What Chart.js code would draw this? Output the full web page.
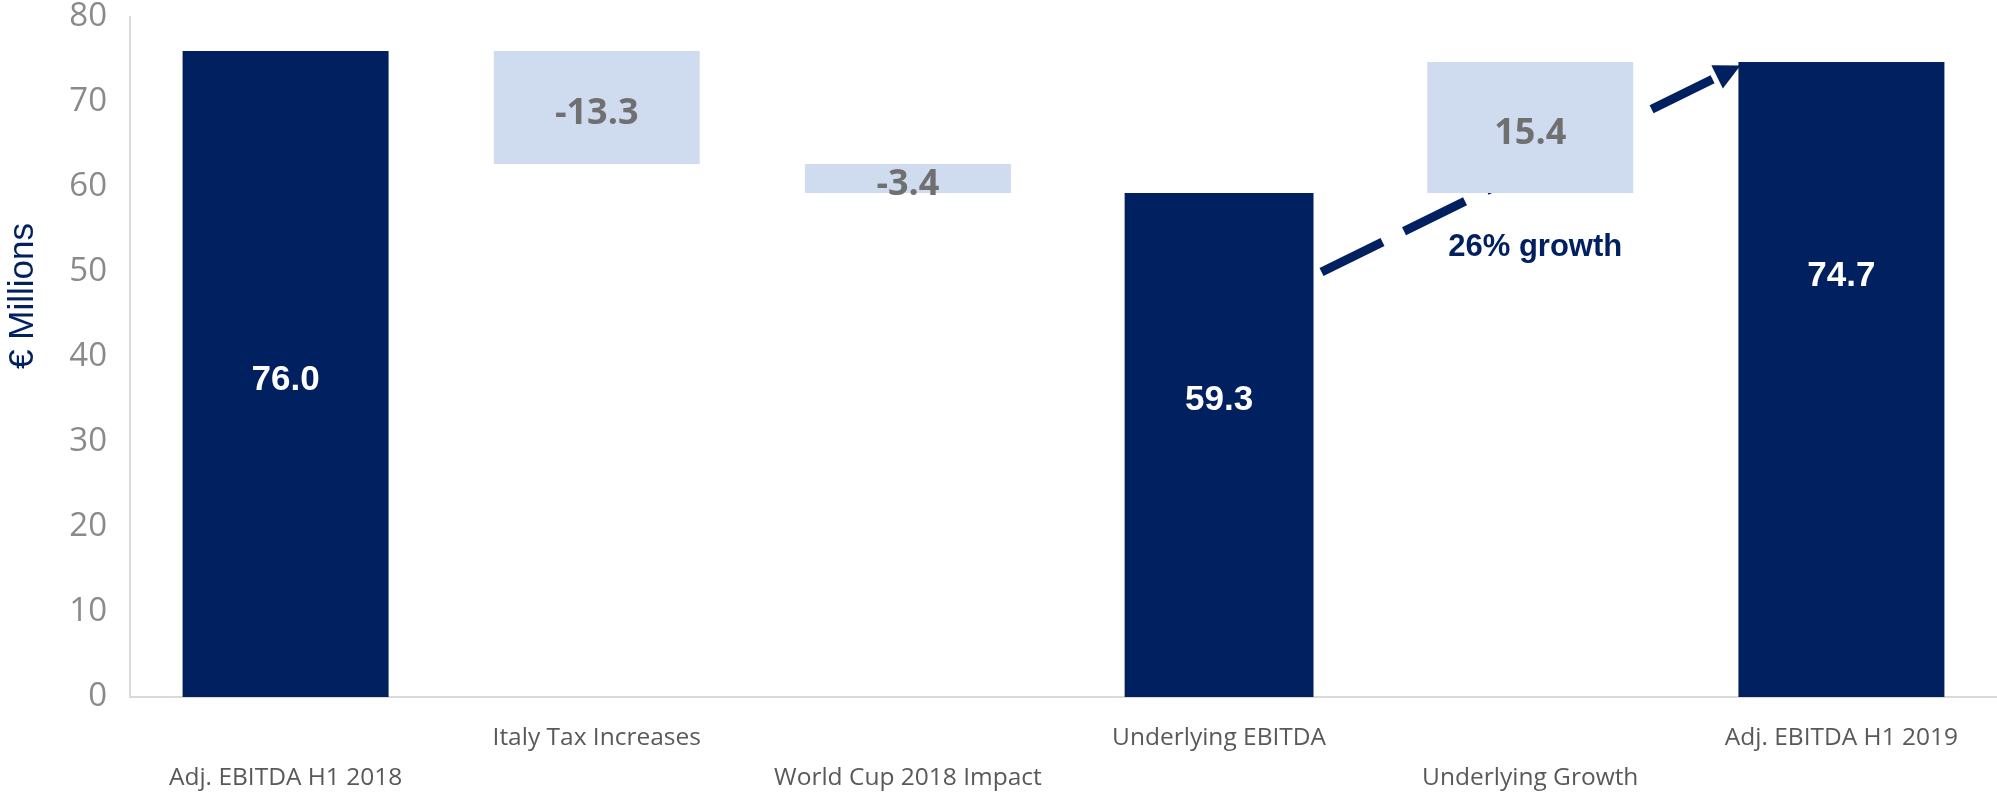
<!DOCTYPE html>
<html><head><meta charset="utf-8">
<script src="https://cdn.jsdelivr.net/npm/chart.js@4.4.0/dist/chart.umd.min.js"></script>
<style>html,body{margin:0;padding:0;background:#fff;}canvas{display:block;}</style>
</head><body>
<canvas id="c" width="1997" height="793"></canvas>
<script>
// ---- data ----
const categories = ['Adj. EBITDA H1 2018','Italy Tax Increases','World Cup 2018 Impact','Underlying EBITDA','Underlying Growth','Adj. EBITDA H1 2019'];
const totals  = [76.0, null, null, 59.3, null, 74.7];
const changes = [null, -13.3, -3.4, null, 15.4, null];
const yTickValues = [0,10,20,30,40,50,60,70,80];
const yTitle = '€ Millions';
const growthNote = '26% growth';

// ---- colours ----
const NAVY = '#00205f';
const LIGHT = '#cfdcf0';

// waterfall floating bars from running total
let running = 0;
const floating = categories.map((c, i) => {
  if (totals[i] !== null) { running = totals[i]; return null; }
  const start = running; running = +(running + changes[i]).toFixed(1);
  return [Math.min(start, running), Math.max(start, running)];
});
const totalsWide   = totals.map((v, i) => i === 3 ? null : v);
const totalsNarrow = totals.map((v, i) => i === 3 ? v : null);

const labelPlugin = {
  id: 'wfLabels',
  afterDatasetsDraw(chart, args, opts) {
    const {ctx, scales: {y}} = chart;
    ctx.save();
    ctx.textAlign = 'center';
    ctx.textBaseline = 'middle';
    chart.data.datasets.forEach((ds, di) => {
      const meta = chart.getDatasetMeta(di);
      meta.data.forEach((bar, i) => {
        const raw = ds.data[i];
        if (raw === null || raw === undefined) return;
        if (Array.isArray(raw)) {
          ctx.font = 'bold 36px "Open Sans"';
          ctx.fillStyle = '#707070';
          ctx.fillText(changes[i].toFixed(1), bar.x, (bar.y + bar.base) / 2 + 6);
        } else {
          ctx.font = 'bold 35px "Liberation Sans", Arial';
          ctx.fillStyle = '#ffffff';
          ctx.fillText(totals[i].toFixed(1), bar.x, y.getPixelForValue(opts.totalAnchors[i]) + 3);
        }
      });
    });
    // growth note
    const xs = chart.scales.x;
    ctx.font = 'bold 31px "Liberation Sans", Arial';
    ctx.fillStyle = NAVY;
    ctx.fillText(growthNote, xs.getPixelForValue(4) + opts.noteDx, y.getPixelForValue(opts.noteValue));
    // y title
    ctx.translate(opts.titleX, opts.titleY);
    ctx.rotate(-Math.PI / 2);
    ctx.font = '35px "Liberation Sans", Arial';
    ctx.fillStyle = NAVY;
    ctx.fillText(yTitle, 0, 0);
    ctx.restore();
  }
};

const arrowPlugin = {
  id: 'growthArrow',
  beforeDatasetsDraw(chart, args, opts) {
    const {ctx, scales: {y}} = chart;
    const narrowBar = chart.getDatasetMeta(1).data[3];
    const endBar = chart.getDatasetMeta(0).data[5];
    const x0 = narrowBar.x + narrowBar.width / 2 + opts.gapStart;
    const y0 = y.getPixelForValue(opts.fromValue);
    const x1 = endBar.x - endBar.width / 2 + opts.gapEnd;
    const y1 = y.getPixelForValue(opts.toValue);
    const dx = x1 - x0, dy = y1 - y0, len = Math.hypot(dx, dy);
    const ux = dx / len, uy = dy / len;
    const hl = opts.headLength, hw = opts.headWidth;
    const bx = x1 - ux * hl, by = y1 - uy * hl;
    ctx.save();
    ctx.strokeStyle = NAVY;
    ctx.fillStyle = NAVY;
    ctx.lineWidth = opts.lineWidth;
    ctx.lineCap = 'butt';
    ctx.setLineDash(opts.dash);
    ctx.beginPath();
    ctx.moveTo(x0, y0);
    ctx.lineTo(bx, by);
    ctx.stroke();
    ctx.setLineDash([]);
    ctx.beginPath();
    ctx.moveTo(x1, y1);
    ctx.lineTo(bx - uy * hw / 2, by + ux * hw / 2);
    ctx.lineTo(bx + uy * hw / 2, by - ux * hw / 2);
    ctx.closePath();
    ctx.fill();
    ctx.restore();
  }
};

new Chart(document.getElementById('c'), {
  type: 'bar',
  data: {
    labels: categories,
    datasets: [
      { label: 'Totals', data: totalsWide, backgroundColor: NAVY, barPercentage: 0.662, categoryPercentage: 1, grouped: false, borderWidth: 0 },
      { label: 'Underlying', data: totalsNarrow, backgroundColor: NAVY, barPercentage: 0.607, categoryPercentage: 1, grouped: false, borderWidth: 0 },
      { label: 'Changes', data: floating, backgroundColor: LIGHT, barPercentage: 0.662, categoryPercentage: 1, grouped: false, borderWidth: 0 }
    ]
  },
  options: {
    responsive: false,
    devicePixelRatio: 1,
    animation: false,
    layout: { padding: { top: 17, left: 0, right: 0, bottom: 0 } },
    plugins: {
      legend: { display: false },
      tooltip: { enabled: false },
      wfLabels: { totalAnchors: [37.6, null, null, 35.2, null, 49.8], noteDx: 5, noteValue: 52.9, titleX: 23, titleY: 296 },
      growthArrow: { fromValue: 50, toValue: 74.3, gapStart: 8, gapEnd: 2, lineWidth: 9, dash: [68, 24], headLength: 26, headWidth: 26 }
    },
    scales: {
      x: {
        grid: { display: false },
        border: { display: true, color: '#d9d9d9', width: 2 },
        ticks: {
          autoSkip: false, maxRotation: 0, minRotation: 0, padding: 13,
          color: '#595959',
          font: { family: 'Open Sans', size: 24.5, lineHeight: 1.63 },
          callback: (v, i) => i % 2 === 0 ? ['', categories[i]] : [categories[i], '']
        },
        afterFit(s) { s.height = 96; s.paddingLeft = 0; s.paddingRight = 0; }
      },
      y: {
        min: 0, max: 80,
        grid: { display: false },
        border: { display: true, color: '#d9d9d9', width: 2 },
        afterBuildTicks(s) { s.ticks = yTickValues.map(v => ({ value: v })); },
        ticks: {
          padding: 15,
          color: '#8a8a8a',
          font: { family: 'Open Sans', size: 33, weight: 400 },
          callback: v => String(v)
        },
        afterFit(s) { s.width = 130; s.paddingTop = 0; s.paddingBottom = 0; }
      }
    }
  },
  plugins: [arrowPlugin, labelPlugin]
});
</script>
</body></html>
